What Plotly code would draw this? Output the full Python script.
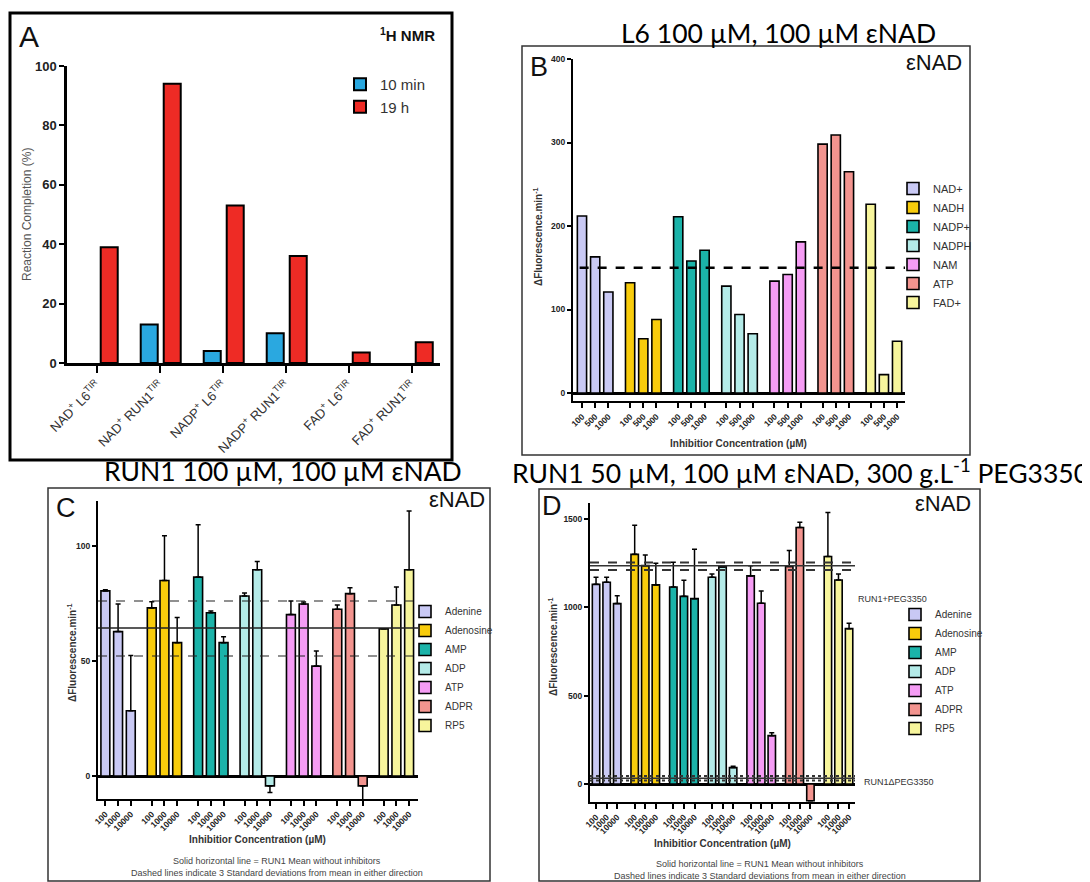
import plotly.graph_objects as go

# the page places the figure 8px from the top-left corner of the window
PAGE_OFFSET = 8
W, H = 1090 - PAGE_OFFSET, 882 - PAGE_OFFSET

# ---------------- DATA ----------------
# Panel A (1H NMR)
a_categories = ["NAD<sup>+</sup> L6<sup>TIR</sup>", "NAD<sup>+</sup> RUN1<sup>TIR</sup>",
                "NADP<sup>+</sup> L6<sup>TIR</sup>", "NADP<sup>+</sup> RUN1<sup>TIR</sup>",
                "FAD<sup>+</sup> L6<sup>TIR</sup>", "FAD<sup>+</sup> RUN1<sup>TIR</sup>"]
a_10min = [None, 13, 4, 10, None, None]
a_19h = [39, 94, 53, 36, 3.5, 7]

# Panel B (L6, eNAD)
b_groups = ["NAD+", "NADH", "NADP+", "NADPH", "NAM", "ATP", "FAD+"]
b_conc = ["100", "500", "1000"]
b_nad = [212, 163, 121]
b_nadh = [132, 65, 88]
b_nadp = [211, 158, 171]
b_nadph = [128, 94, 71]
b_nam = [134, 142, 181]
b_atp = [298, 309, 265]
b_fad = [226, 22, 62]
b_values = [b_nad, b_nadh, b_nadp, b_nadph, b_nam, b_atp, b_fad]
b_reference = 150

# Panel C (RUN1, eNAD)
c_groups = ["Adenine", "Adenosine", "AMP", "ADP", "ATP", "ADPR", "RP5"]
c_conc = ["100", "1000", "10000"]
c_adenine = [80.5, 62.8, 28.4]
c_adenosine = [73.1, 85.0, 58.0]
c_amp = [86.5, 71.0, 58.0]
c_adp = [78.3, 89.7, -4.3]
c_atp = [70.2, 74.8, 47.8]
c_adpr = [72.5, 79.3, -4.3]
c_rp5 = [64.0, 74.4, 89.7]
c_values = [c_adenine, c_adenosine, c_amp, c_adp, c_atp, c_adpr, c_rp5]
c_err_adenine = [0.5, 12.0, 24.0]
c_err_adenosine = [2.7, 19.5, 10.9]
c_err_amp = [22.8, 0.8, 2.6]
c_err_adp = [1.3, 3.6, 2.9]
c_err_atp = [5.9, 0.9, 6.6]
c_err_adpr = [1.9, 2.6, 7.0]
c_err_rp5 = [0.0, 7.8, 25.5]
c_errors = [c_err_adenine, c_err_adenosine, c_err_amp, c_err_adp, c_err_atp, c_err_adpr, c_err_rp5]
c_mean = 64.4
c_sd_band = [76.1, 52.2]

# Panel D (RUN1 + PEG3350, eNAD)
d_groups = ["Adenine", "Adenosine", "AMP", "ADP", "ATP", "ADPR", "RP5"]
d_conc = ["100", "1000", "10000"]
d_adenine = [1131, 1143, 1022]
d_adenosine = [1301, 1237, 1128]
d_amp = [1116, 1063, 1050]
d_adp = [1171, 1230, 93]
d_atp = [1179, 1024, 274]
d_adpr = [1232, 1453, -95]
d_rp5 = [1289, 1156, 880]
d_values = [d_adenine, d_adenosine, d_amp, d_adp, d_atp, d_adpr, d_rp5]
d_err_adenine = [40, 28, 45]
d_err_adenosine = [165, 61, 122]
d_err_amp = [140, 91, 280]
d_err_adp = [19, 4, 7]
d_err_atp = [57, 70, 17]
d_err_adpr = [91, 30, 0]
d_err_rp5 = [249, 34, 31]
d_errors = [d_err_adenine, d_err_adenosine, d_err_amp, d_err_adp, d_err_atp, d_err_adpr, d_err_rp5]
d_mean_peg = 1236
d_sd_band_peg = [1255, 1213]
d_mean_nopeg = 32
d_sd_band_nopeg = [45, 20]

# ---------------- STYLE ----------------
PALETTE = ["#c9c9f4", "#f8cc0c", "#1bb3a9", "#b4ebe8", "#f59cf4", "#f3948f", "#f7f59c"]
A_BLUE, A_RED = "#2aa8e0", "#ee2b25"
FONT = "Liberation Sans, Arial, sans-serif"
TFONT = "Lato, Open Sans, sans-serif"
GROUP_STEP = 3.65


def px(xp):
    return (xp - PAGE_OFFSET) / W


def py(yp):
    return 1 - (yp - PAGE_OFFSET) / H


fig = go.Figure()

# ---- Panel A ----
fig.add_trace(go.Bar(x=a_categories, y=a_10min, name="10 min", marker=dict(color=A_BLUE, line=dict(color="black", width=2)),
                     width=0.27, offset=-0.31, xaxis="x", yaxis="y", legend="legend"))
fig.add_trace(go.Bar(x=a_categories, y=a_19h, name="19 h", marker=dict(color=A_RED, line=dict(color="black", width=2)),
                     width=0.27, offset=0.055, xaxis="x", yaxis="y", legend="legend"))


def add_grouped(groups, conc, values, errors, xa, ya, leg):
    tickvals, ticktext = [], []
    for g, (name, vals) in enumerate(zip(groups, values)):
        xs = [g * GROUP_STEP + j for j in range(len(conc))]
        tickvals += xs
        ticktext += conc
        err = None
        if errors is not None:
            e = errors[g]
            up = [ei if v >= 0 else 0 for v, ei in zip(vals, e)]
            dn = [ei if v < 0 else 0 for v, ei in zip(vals, e)]
            err = dict(type="data", symmetric=False, array=up, arrayminus=dn,
                       color="black", thickness=1.5, width=2.5)
        fig.add_trace(go.Bar(x=xs, y=vals, name=name, width=0.7,
                             marker=dict(color=PALETTE[g], line=dict(color="black", width=1.6)),
                             error_y=err, xaxis=xa, yaxis=ya, legend=leg))
    return tickvals, ticktext


b_tv, b_tt = add_grouped(b_groups, b_conc, b_values, None, "x2", "y2", "legend2")
c_tv, c_tt = add_grouped(c_groups, c_conc, c_values, c_errors, "x3", "y3", "legend3")
d_tv, d_tt = add_grouped(d_groups, d_conc, d_values, d_errors, "x4", "y4", "legend4")

tick_small = dict(family=FONT, size=8.5, color="#222", weight="bold")
common_x = dict(showline=True, linecolor="black", linewidth=2, ticks="outside", ticklen=5,
                tickwidth=1.5, tickcolor="black", tickangle=-45, tickmode="array", automargin=False,
                showgrid=False, zeroline=False, tickfont=tick_small)
common_y = dict(showline=True, linecolor="black", linewidth=2, ticks="outside", ticklen=4,
                tickwidth=1.5, tickcolor="black", showgrid=False, zeroline=True, automargin=False,
                zerolinecolor="black", zerolinewidth=3, tickfont=tick_small, tickmode="array")

fig.update_layout(
    template="none",
    width=W, height=H, margin=dict(l=0, r=0, t=0, b=0, pad=0, autoexpand=False),
    paper_bgcolor="white", plot_bgcolor="rgba(0,0,0,0)",
    barmode="overlay", font=dict(family=FONT, color="#222"),
    xaxis=dict(domain=[px(67), px(440)], anchor="y", range=[-0.48, 5.44], showline=True,
               linecolor="black", linewidth=2.5, ticks="outside", ticklen=7, tickwidth=2,
               tickcolor="black", tickangle=-45, showgrid=False, zeroline=False, automargin=False,
               tickfont=dict(family=FONT, size=13, color="#333")),
    yaxis=dict(domain=[py(363), py(66)], anchor="x", range=[0, 100], tickvals=[0, 20, 40, 60, 80, 100],
               showline=True, linecolor="black", linewidth=2.5, ticks="outside", ticklen=5, tickwidth=2,
               tickcolor="black", showgrid=False, zeroline=False, automargin=False,
               tickfont=dict(family=FONT, size=13, color="#222", weight="bold")),
    xaxis2=dict(domain=[px(573), px(905)], anchor="y2", range=[-0.68, 24.5],
                tickvals=b_tv, ticktext=b_tt, **common_x),
    yaxis2=dict(domain=[py(401.35), py(59)], anchor="x2", range=[-10, 400],
                tickvals=[0, 100, 200, 300, 400], **common_y),
    xaxis3=dict(domain=[px(98), px(418)], anchor="y3", range=[-0.58, 24.6],
                tickvals=c_tv, ticktext=c_tt, **common_x),
    yaxis3=dict(domain=[py(799), py(501)], anchor="x3", range=[-10, 119.6],
                tickvals=[0, 50, 100], **common_y),
    xaxis4=dict(domain=[px(590), px(855)], anchor="y4", range=[-0.57, 24.46],
                tickvals=d_tv, ticktext=d_tt, **common_x),
    yaxis4=dict(domain=[py(802), py(503)], anchor="x4", range=[-102, 1592],
                tickvals=[0, 500, 1000, 1500], **common_y),
    legend=dict(x=px(340), y=py(68), xanchor="left", yanchor="top", bgcolor="rgba(0,0,0,0)",
                font=dict(family=FONT, size=15, color="#333"), tracegroupgap=0),
    legend2=dict(x=px(893), y=py(174), xanchor="left", yanchor="top", bgcolor="rgba(0,0,0,0)",
                 font=dict(family=FONT, size=11, color="#333")),
    legend3=dict(x=px(405), y=py(597), xanchor="left", yanchor="top", bgcolor="rgba(0,0,0,0)",
                 font=dict(family=FONT, size=10, color="#333")),
    legend4=dict(x=px(895), y=py(600), xanchor="left", yanchor="top", bgcolor="rgba(0,0,0,0)",
                 font=dict(family=FONT, size=10, color="#333")),
    showlegend=True,
)

shapes = []
# panel borders
shapes.append(dict(type="rect", xref="paper", yref="paper", x0=px(10), x1=px(452), y0=py(460), y1=py(13),
                   line=dict(color="black", width=3)))
for (x0, y0, x1, y1) in [(522, 46, 970, 455), (48, 488, 490, 881), (539, 489, 980, 881)]:
    shapes.append(dict(type="rect", xref="paper", yref="paper", x0=px(x0), x1=px(x1), y0=py(y1), y1=py(y0),
                       line=dict(color="#333", width=1.5)))
# reference lines
shapes.append(dict(type="line", xref="x2 domain", yref="y2", x0=0.02, x1=1, y0=b_reference, y1=b_reference,
                   line=dict(color="black", width=2.5, dash="dash")))
shapes.append(dict(type="line", xref="x3 domain", yref="y3", x0=0, x1=1, y0=c_mean, y1=c_mean,
                   line=dict(color="#222", width=1.5)))
for v in c_sd_band:
    shapes.append(dict(type="line", xref="x3 domain", yref="y3", x0=0, x1=1, y0=v, y1=v,
                       line=dict(color="#222", width=1.2, dash="dash")))
shapes.append(dict(type="line", xref="x4 domain", yref="y4", x0=0, x1=1, y0=d_mean_peg, y1=d_mean_peg,
                   line=dict(color="#333", width=1.5)))
for v in d_sd_band_peg:
    shapes.append(dict(type="line", xref="x4 domain", yref="y4", x0=0, x1=1, y0=v, y1=v,
                       line=dict(color="#333", width=2, dash="dash")))
shapes.append(dict(type="line", xref="x4 domain", yref="y4", x0=0, x1=1, y0=d_mean_nopeg, y1=d_mean_nopeg,
                   line=dict(color="#333", width=1.5)))
for v in d_sd_band_nopeg:
    shapes.append(dict(type="line", xref="x4 domain", yref="y4", x0=0, x1=1, y0=v, y1=v,
                       line=dict(color="#333", width=2, dash="dot")))
fig.update_layout(shapes=shapes)

ann = []


def text(x, y, t, size, xanchor="center", family=FONT, color="#222", bold=False, angle=0):
    ann.append(dict(x=px(x), y=py(y), xref="paper", yref="paper", text=t, showarrow=False,
                    xanchor=xanchor, yanchor="middle", textangle=angle,
                    font=dict(family=family, size=size, color=color, weight="bold" if bold else "normal")))


# Panel A texts
text(17, 36, "A", 30, "left", color="#111")
text(437, 35, "<sup>1</sup>H NMR", 15, "right", bold=True, color="#111")
text(27, 215, "Reaction Completion (%)", 12, color="#555", angle=-90)

# Panel titles (outside panels)
text(778, 33, "L6 100 µM, 100 µM εNAD", 26.5, family=TFONT, color="#000")
text(283, 471, "RUN1 100 µM, 100 µM εNAD", 26.5, family=TFONT, color="#000")
text(800, 471, "RUN1 50 µM, 100 µM εNAD, 300 g.L<sup>-1</sup> PEG3350", 26.5, family=TFONT, color="#000")

# Panel B texts
text(528, 67, "B", 27, "left", color="#111")
text(964, 62, "εNAD", 22, "right", color="#111")
text(738, 444, "Inhibitior Concentration (µM)", 10, bold=True, color="#333")
text(538, 237, "ΔFluorescence.min<sup>-1</sup>", 10, bold=True, color="#333", angle=-90)

# Panel C texts
text(54, 508, "C", 27, "left", color="#111")
text(487, 500, "εNAD", 22, "right", color="#111")
text(72, 653, "ΔFluorescence.min<sup>-1</sup>", 10, bold=True, color="#333", angle=-90)
text(257, 839, "Inhibitior Concentration (µM)", 10, bold=True, color="#333")
text(277, 861, "Solid horizontal line = RUN1 Mean without inhibitors", 9, color="#444")
text(277, 873, "Dashed lines indicate 3 Standard deviations from mean in either direction", 9, color="#444")

# Panel D texts
text(540, 506, "D", 27, "left", color="#111")
text(973, 503, "εNAD", 22, "right", color="#111")
text(553, 647, "ΔFluorescence.min<sup>-1</sup>", 10, bold=True, color="#333", angle=-90)
text(722, 843, "Inhibitior Concentration (µM)", 10, bold=True, color="#333")
text(760, 864, "Solid horizontal line = RUN1 Mean without inhibitors", 9, color="#444")
text(760, 876, "Dashed lines indicate 3 Standard deviations from mean in either direction", 9, color="#444")
text(856, 599, "RUN1+PEG3350", 9, "left", color="#333")
text(862, 782, "RUN1ΔPEG3350", 9, "left", color="#333")

fig.update_layout(annotations=ann)

fig.write_html("out.html")
